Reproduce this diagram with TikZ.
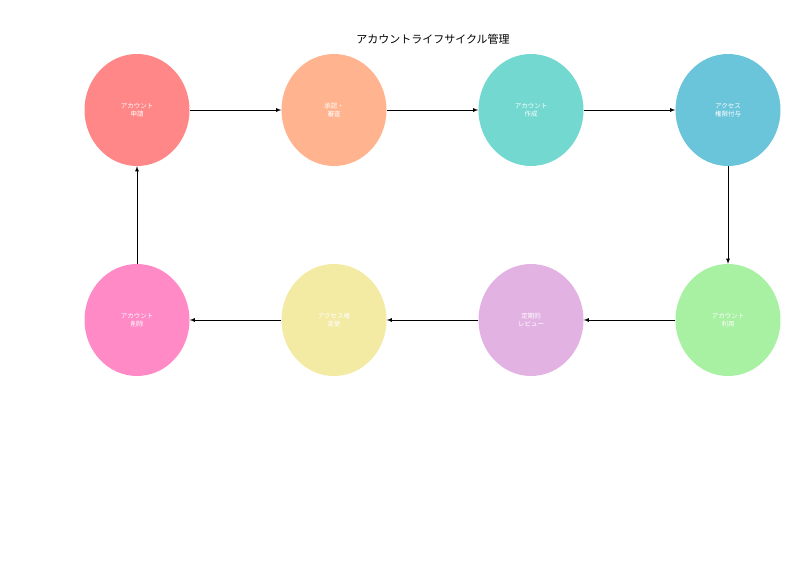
\documentclass[tikz,border=0pt]{standalone}
\usepackage{fontspec}
\newfontfamily\cjk{Noto Sans CJK JP}
\usetikzlibrary{shapes.geometric}
\definecolor{c1}{HTML}{FF8787}
\definecolor{c2}{HTML}{FFB38F}
\definecolor{c3}{HTML}{73D8CF}
\definecolor{c4}{HTML}{6AC4DA}
\definecolor{c5}{HTML}{A8F0A2}
\definecolor{c6}{HTML}{E2B3E2}
\definecolor{c7}{HTML}{F3EAA3}
\definecolor{c8}{HTML}{FF8AC6}
\tikzset{
  stage/.style={ellipse, minimum width=105pt, minimum height=112pt, inner sep=0pt,
    text=white, font=\cjk\fontsize{6.5}{8.5}\selectfont, align=center},
  flow/.style={black, thick, -latex}
}
\begin{document}
\begin{tikzpicture}[x=1pt, y=-1pt]
                \useasboundingbox (0, 0) rectangle (800, 570);
                \node [font=\cjk\fontsize{11}{13}\selectfont] (title) at (433, 39) {アカウントライフサイクル管理};
                \node [stage, fill=c1] (request) at (137, 110) {アカウント\\申請};
                \node [stage, fill=c2] (approve) at (334, 110) {承認・\\審査};
                \node [stage, fill=c3] (create) at (531, 110) {アカウント\\作成};
                \node [stage, fill=c4] (grant) at (728, 110) {アクセス\\権限付与};
                \node [stage, fill=c5] (use) at (728, 320) {アカウント\\利用};
                \node [stage, fill=c6] (review) at (531, 320) {定期的\\レビュー};
                \node [stage, fill=c7] (change) at (334, 320) {アクセス権\\変更};
                \node [stage, fill=c8] (delete) at (137, 320) {アカウント\\削除};
                \draw [flow] (request) -- (approve);
                \draw [flow] (approve) -- (create);
                \draw [flow] (create) -- (grant);
                \draw [flow] (grant) -- (use);
                \draw [flow] (use) -- (review);
                \draw [flow] (review) -- (change);
                \draw [flow] (change) -- (delete);
                \draw [flow] (delete) -- (request);
\end{tikzpicture}
\end{document}
